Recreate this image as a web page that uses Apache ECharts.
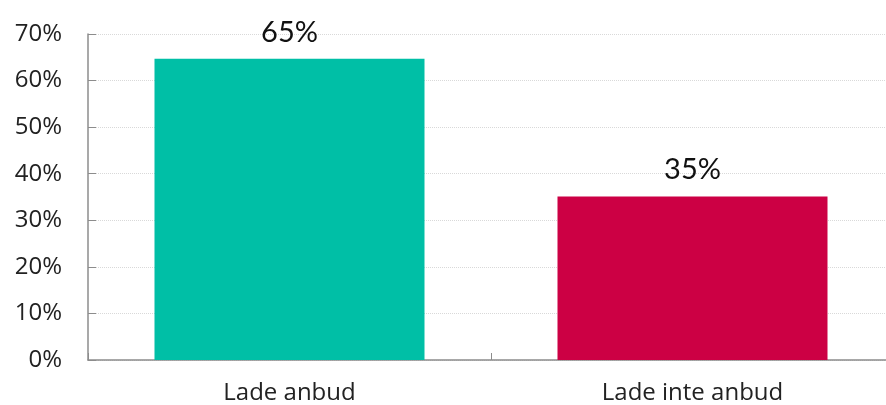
<!DOCTYPE html>
<html><head><meta charset="utf-8">
<script src="https://cdn.jsdelivr.net/npm/echarts@6/dist/echarts.min.js"></script>
<style>html,body{margin:0;padding:0;background:#fff;overflow:hidden;width:886px;height:405px}#c{width:894px;height:405px}</style>
</head><body><div id="c"></div>
<script>
const categories = ['Lade anbud', 'Lade inte anbud'];
const values = [64.7, 35.1];
const barColors = ['#00bfa6', '#cc0044'];
const yTicks = [0, 10, 20, 30, 40, 50, 60, 70];

const chart = echarts.init(document.getElementById('c'), null, {renderer: 'canvas'});
chart.setOption({
  animation: false,
  grid: {left: 88, right: 0, top: 34, bottom: 44, containLabel: false},
  xAxis: {
    type: 'category', data: categories,
    axisLine: {lineStyle: {color: '#8c8c8c', width: 1.5}},
    axisTick: {show: true, inside: true, length: 7, lineStyle: {color: '#8c8c8c'}},
    axisLabel: {color: '#222', fontFamily: 'Open Sans', fontSize: 24, margin: 21}
  },
  yAxis: {
    type: 'value', min: yTicks[0], max: yTicks[yTicks.length - 1], interval: 10,
    axisLine: {show: true, lineStyle: {color: '#8c8c8c', width: 1.5}},
    axisTick: {show: true, inside: true, length: 8, lineStyle: {color: '#8c8c8c'}},
    splitLine: {lineStyle: {color: '#d9d9d9', type: 'dotted'}},
    axisLabel: {color: '#222', fontFamily: 'Open Sans', fontSize: 24, margin: 26,
      formatter: v => v + '%'}
  },
  series: [{
    type: 'bar', barWidth: '67%',
    data: values.map((v, i) => ({value: v, itemStyle: {color: barColors[i]}})),
    label: {show: true, position: 'top', distance: 12, color: '#111',
      fontFamily: 'Lato', fontSize: 29,
      formatter: p => Math.round(p.value) + '%'}
  }]
});
</script></body></html>
